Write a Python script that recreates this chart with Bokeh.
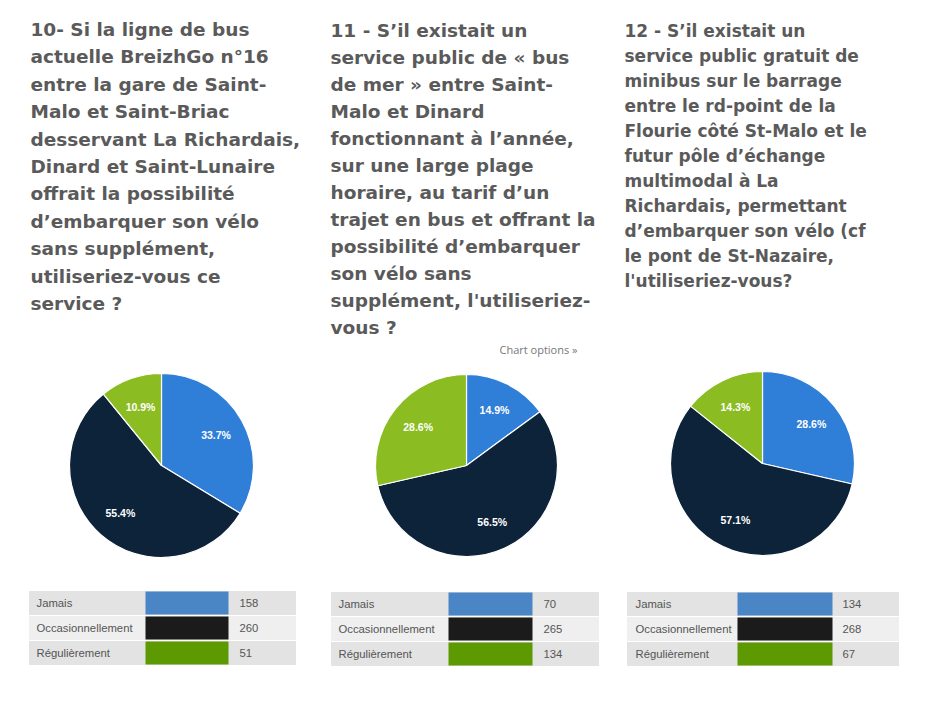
import math

from bokeh.plotting import figure
from bokeh.models import Range1d
from bokeh.core.properties import value
from bokeh.embed import file_html
from bokeh.resources import INLINE

# données
categories = ["Jamais", "Occasionnellement", "Régulièrement"]
q10_counts = [158, 260, 51]
q11_counts = [70, 265, 134]
q12_counts = [134, 268, 67]

q10_title = ["10- Si la ligne de bus", "actuelle BreizhGo n°16", "entre la gare de Saint-",
             "Malo et Saint-Briac", "desservant La Richardais,", "Dinard et Saint-Lunaire",
             "offrait la possibilité", "d’embarquer son vélo", "sans supplément,",
             "utiliseriez-vous ce", "service ?"]
q11_title = ["11 - S’il existait un", "service public de « bus", "de mer » entre Saint-",
             "Malo et Dinard", "fonctionnant à l’année,", "sur une large plage",
             "horaire, au tarif d’un", "trajet en bus et offrant la", "possibilité d’embarquer",
             "son vélo sans", "supplément, l'utiliseriez-", "vous ?"]
q12_title = ["12 - S’il existait un", "service public gratuit de", "minibus sur le barrage",
             "entre le rd-point de la", "Flourie côté St-Malo et le", "futur pôle d’échange",
             "multimodal à La", "Richardais, permettant", "d’embarquer son vélo (cf",
             "le pont de St-Nazaire,", "l'utiliseriez-vous?"]

pie_colors = ["#2f7ed8", "#0d233a", "#8bbc21"]
swatch_colors = ["#4a85c6", "#1b1b1b", "#5d9a02"]
row_colors = ["#e3e3e3", "#efefef", "#e3e3e3"]

# mise en page (pixels de l'image)
panels = [
    dict(counts=q10_counts, title=q10_title, tx=30, ty=29, lh=27.4, fs="18.5px",
         cx=161, cy=465, r=92,
         tab=(28, 296), sw=(145, 228), lab_x=36, val_x=239, rows_y=590),
    dict(counts=q11_counts, title=q11_title, tx=330, ty=30, lh=27.0, fs="18.5px",
         cx=466, cy=465, r=91,
         tab=(330, 599), sw=(448, 532), lab_x=338, val_x=543, rows_y=591),
    dict(counts=q12_counts, title=q12_title, tx=624, ty=30, lh=25.0, fs="17px",
         cx=762, cy=463, r=92,
         tab=(626, 899), sw=(737, 832), lab_x=635, val_x=842, rows_y=591),
]

p = figure(width=910, height=688, output_backend="svg", toolbar_location=None,
           x_range=Range1d(0, 910), y_range=Range1d(-688, 0),
           x_axis_location=None, y_axis_location=None, min_border=0)
p.grid.visible = False
p.outline_line_color = None
p.background_fill_color = "white"


for pn in panels:
    # titre
    ys = [-(pn["ty"] + i * pn["lh"]) for i in range(len(pn["title"]))]
    p.text(x=[pn["tx"]] * len(ys), y=ys, text=pn["title"],
           text_font=value("DejaVu Sans"), text_font_style="bold",
           text_font_size=pn["fs"], text_color="#5a5a5a",
           text_baseline="middle", text_align="left")

    # camembert
    counts = pn["counts"]
    total = float(sum(counts))
    fr = [c / total for c in counts]
    cum = [0.0]
    for f in fr:
        cum.append(cum[-1] + f)
    starts = [math.pi / 2 - 2 * math.pi * cum[i] for i in range(3)]
    ends = [math.pi / 2 - 2 * math.pi * cum[i + 1] for i in range(3)]
    p.wedge(x=pn["cx"], y=-pn["cy"], radius=pn["r"],
            start_angle=starts, end_angle=ends, direction="clock",
            fill_color=pie_colors, line_color="white", line_width=1.2)

    mids = [(s + e) / 2 for s, e in zip(starts, ends)]
    d = pn["r"] * 0.68
    lx = [pn["cx"] + d * math.cos(m) for m in mids]
    ly = [-pn["cy"] + d * math.sin(m) for m in mids]
    labels = ["%.1f%%" % (100 * f) for f in fr]
    p.text(x=lx, y=ly, text=labels, text_font=value("Liberation Sans"),
           text_font_style="bold", text_font_size="10.5px", text_color="white",
           text_align="center", text_baseline="middle")

    # tableau
    rh = 25
    tops = [-(pn["rows_y"] + i * rh) for i in range(3)]
    bots = [t - rh for t in tops]
    p.quad(left=pn["tab"][0], right=pn["tab"][1], top=tops, bottom=bots,
           fill_color=row_colors, line_color="white", line_width=1)
    p.quad(left=pn["sw"][0], right=pn["sw"][1], top=[t - 1 for t in tops],
           bottom=[b + 1 for b in bots], fill_color=swatch_colors, line_color=None)
    mid_y = [t - rh / 2 for t in tops]
    p.text(x=[pn["lab_x"]] * 3, y=mid_y, text=categories,
           text_font=value("Liberation Sans"), text_font_size="11.3px",
           text_color="#555555", text_baseline="middle")
    p.text(x=[pn["val_x"]] * 3, y=mid_y, text=[str(c) for c in counts],
           text_font=value("Liberation Sans"), text_font_size="11.3px",
           text_color="#555555", text_baseline="middle")

p.text(x=[577], y=[-349], text=["Chart options »"], text_font=value("Open Sans"),
       text_font_size="11px", text_color="#777777", text_align="right",
       text_baseline="middle")

open("out.html", "w").write(file_html(p, INLINE))
